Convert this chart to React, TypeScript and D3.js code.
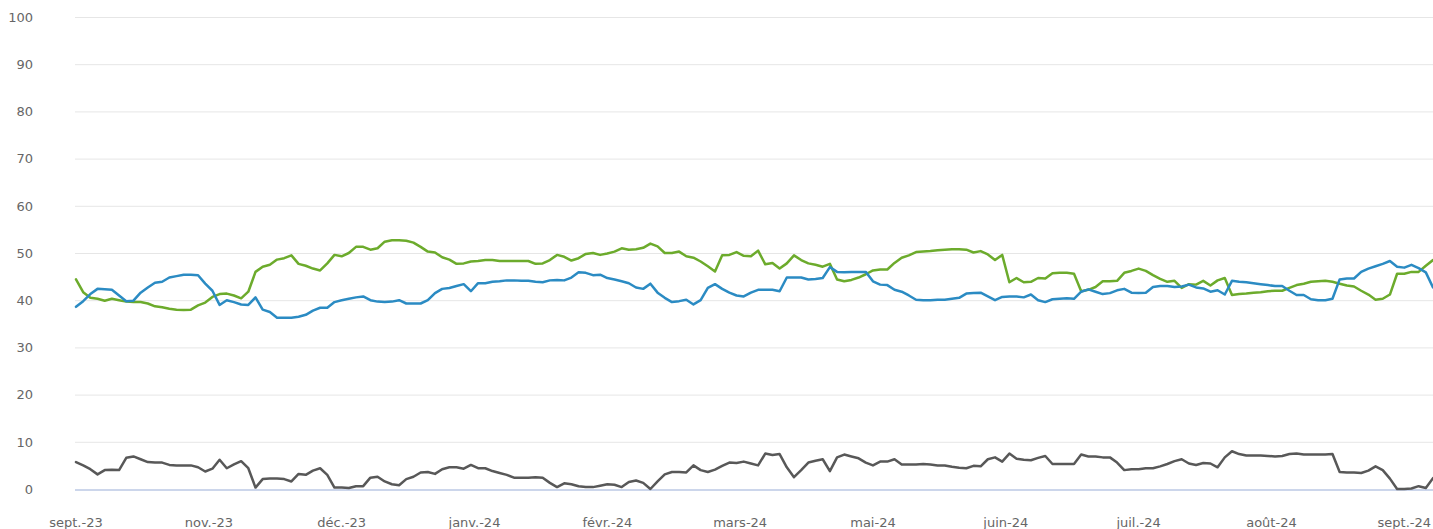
import React from "react";
import * as d3 from "d3";

// one value every 2 days, starting late Sept 2023
const green: number[] = [
  44.4, 41.7, 40.5, 40.3, 39.9, 40.3, 40.0, 39.7, 39.6, 39.6, 39.3, 38.7, 38.5, 38.2, 38.0, 37.9,
  38.0, 38.9, 39.5, 40.7, 41.3, 41.4, 41.0, 40.4, 41.8, 46.0, 47.1, 47.5, 48.6, 48.9, 49.5, 47.7,
  47.3, 46.7, 46.3, 47.8, 49.6, 49.3, 50.0, 51.3, 51.3, 50.7, 51.0, 52.4, 52.7, 52.7, 52.6, 52.2,
  51.3, 50.3, 50.1, 49.1, 48.6, 47.7, 47.8, 48.2, 48.3, 48.5, 48.5, 48.3, 48.3, 48.3, 48.3,
  48.3, 47.7, 47.8, 48.5, 49.6, 49.2, 48.4, 48.9, 49.8, 50.0, 49.6, 49.9, 50.3, 51.0, 50.7, 50.8,
  51.1, 52.0, 51.4, 50.0, 50.0, 50.3, 49.3, 49.0, 48.2, 47.2, 46.1, 49.5, 49.6, 50.2, 49.4, 49.3,
  50.5, 47.6, 47.9, 46.7, 47.8, 49.5, 48.5, 47.8, 47.5, 47.1, 47.7, 44.4, 44.0, 44.3, 44.8, 45.5,
  46.3, 46.5, 46.5, 47.9, 49.0, 49.5, 50.2, 50.3, 50.4, 50.6, 50.7, 50.8, 50.8, 50.7, 50.1,
  50.4, 49.7, 48.5, 49.6, 43.8, 44.7, 43.8, 43.9, 44.7, 44.6, 45.7, 45.8, 45.8, 45.6, 41.9, 42.2,
  42.8, 44.0, 44.0, 44.1, 45.8, 46.2, 46.7, 46.2, 45.3, 44.5, 43.9, 44.1, 42.6, 43.4, 43.3,
  44.1, 43.1, 44.2, 44.7, 41.1, 41.3, 41.4, 41.6, 41.7, 41.9, 42.0, 42.0, 42.6, 43.2, 43.5, 43.9,
  44.0, 44.1, 43.9, 43.5, 43.1, 42.9, 42.0, 41.2, 40.1, 40.3, 41.2, 45.6, 45.6, 46.0, 46.0, 47.3, 48.5,
];

const blue: number[] = [
  38.6, 39.8, 41.3, 42.4, 42.3, 42.2, 41.0, 39.8, 39.9, 41.6, 42.7, 43.7, 43.9, 44.8, 45.1, 45.4,
  45.4, 45.3, 43.5, 42.0, 39.0, 40.0, 39.6, 39.1, 39.0, 40.6, 38.0, 37.5, 36.3, 36.3, 36.3, 36.5,
  36.9, 37.8, 38.4, 38.4, 39.6, 40.0, 40.3, 40.6, 40.8, 40.0, 39.7, 39.6, 39.7, 40.0, 39.3, 39.3,
  39.3, 40.0, 41.5, 42.4, 42.6, 43.0, 43.4, 41.9, 43.6, 43.6, 43.9, 44.0, 44.2, 44.2, 44.1,
  44.1, 43.9, 43.8, 44.2, 44.3, 44.2, 44.8, 45.9, 45.8, 45.3, 45.4, 44.7, 44.4, 44.0, 43.6, 42.7,
  42.4, 43.5, 41.6, 40.5, 39.6, 39.8, 40.1, 39.1, 40.0, 42.6, 43.4, 42.4, 41.6, 41.0, 40.8, 41.6,
  42.2, 42.2, 42.2, 41.9, 44.8, 44.8, 44.8, 44.4, 44.5, 44.7, 47.0, 46.0, 45.9, 46.0, 46.0, 46.0,
  44.0, 43.3, 43.2, 42.2, 41.8, 41.0, 40.1, 40.0, 40.0, 40.1, 40.1, 40.3, 40.5, 41.4, 41.5,
  41.6, 40.8, 40.0, 40.7, 40.8, 40.8, 40.6, 41.2, 40.0, 39.6, 40.2, 40.3, 40.4, 40.3, 41.8, 42.3,
  41.8, 41.3, 41.5, 42.1, 42.4, 41.6, 41.5, 41.6, 42.8, 43.0, 43.0, 42.8, 42.9, 43.3, 42.7,
  42.5, 41.8, 42.1, 41.2, 44.1, 43.9, 43.8, 43.6, 43.4, 43.2, 43.0, 43.0, 42.0, 41.1, 41.1, 40.2,
  40.0, 40.0, 40.3, 44.4, 44.6, 44.6, 46.0, 46.7, 47.2, 47.7, 48.3, 47.1, 46.9, 47.5, 46.8, 45.9, 42.7,
];

const gray: number[] = [
  5.7, 5.0, 4.2, 3.1, 4.0, 4.1, 4.0, 6.6, 6.9, 6.3, 5.7, 5.6, 5.6, 5.1, 5.0, 5.0,
  5.0, 4.6, 3.7, 4.3, 6.2, 4.4, 5.2, 5.9, 4.4, 0.3, 2.1, 2.2, 2.2, 2.1, 1.6, 3.2,
  3.0, 3.9, 4.4, 3.0, 0.3, 0.3, 0.2, 0.6, 0.6, 2.4, 2.6, 1.6, 1.0, 0.8, 2.1, 2.6,
  3.5, 3.6, 3.2, 4.2, 4.6, 4.6, 4.3, 5.1, 4.4, 4.4, 3.8, 3.4, 3.0, 2.4, 2.4,
  2.4, 2.5, 2.4, 1.3, 0.4, 1.2, 1.0, 0.6, 0.4, 0.4, 0.7, 1.0, 0.9, 0.4, 1.5, 1.8,
  1.3, 0.0, 1.6, 3.1, 3.6, 3.6, 3.5, 5.0, 4.0, 3.6, 4.1, 4.9, 5.6, 5.5, 5.8, 5.4,
  5.0, 7.5, 7.2, 7.4, 4.6, 2.5, 4.0, 5.6, 6.0, 6.3, 3.8, 6.7, 7.3, 6.9, 6.5, 5.6,
  5.0, 5.8, 5.8, 6.3, 5.2, 5.2, 5.2, 5.3, 5.2, 5.0, 5.0, 4.7, 4.5, 4.4, 4.9,
  4.8, 6.3, 6.7, 5.8, 7.5, 6.4, 6.2, 6.1, 6.6, 7.0, 5.3, 5.3, 5.3, 5.3, 7.3, 6.9,
  6.9, 6.7, 6.7, 5.6, 4.0, 4.2, 4.2, 4.4, 4.4, 4.8, 5.3, 5.9, 6.3, 5.4, 5.1,
  5.5, 5.4, 4.6, 6.7, 8.0, 7.4, 7.1, 7.1, 7.1, 7.0, 6.9, 7.0, 7.4, 7.5, 7.3, 7.3,
  7.3, 7.3, 7.4, 3.6, 3.5, 3.5, 3.4, 3.9, 4.8, 4.0, 2.2, 0.0, 0.0, 0.1, 0.6, 0.2, 2.3,
];

const tickDays: number[] = [0, 37, 74, 111, 148, 185, 222, 259, 296, 333, 370];
const tickLabels: string[] = [
  "sept.-23", "nov.-23", "déc.-23", "janv.-24", "févr.-24", "mars-24",
  "mai-24", "juin-24", "juil.-24", "août-24", "sept.-24",
];
const yTicks: number[] = [0, 10, 20, 30, 40, 50, 60, 70, 80, 90, 100];
const STEP_DAYS = 2;

const W = 1433;
const H = 529;

export default function App() {
  const n = green.length;
  const x = d3.scaleLinear().domain([0, (n - 1) * STEP_DAYS]).range([76, 1433]);
  const y = d3.scaleLinear().domain([0, 100]).range([489, 17]);
  const line = d3
    .line<number>()
    .x((_, i) => x(i * STEP_DAYS))
    .y((d) => y(d));

  const series = [
    { data: green, color: "#6cab2c" },
    { data: blue, color: "#2b8bc3" },
    { data: gray, color: "#585858" },
  ];

  return (
    <svg
      width={W}
      height={H}
      style={{ position: "absolute", left: 0, top: 0, background: "#fff" }}
      fontFamily="'DejaVu Sans', sans-serif"
    >
      {yTicks.map((t) => (
        <g key={t}>
          {t > 0 && (
            <line x1={75} x2={1433} y1={y(t) + 0.5} y2={y(t) + 0.5} stroke="#e6e6e6" strokeWidth={1} />
          )}
          <text x={33} y={y(t) + 4.7} textAnchor="end" fontSize={13} fill="#666666">
            {t}
          </text>
        </g>
      ))}
      <line x1={75} x2={1433} y1={490} y2={490} stroke="#ccd6eb" strokeWidth={2} />
      {tickDays.map((d, i) => (
        <text key={d} x={x(d)} y={526.5} textAnchor="middle" fontSize={13} fill="#666666">
          {tickLabels[i]}
        </text>
      ))}
      {series.map((s, i) => (
        <path
          key={i}
          d={line(s.data) || ""}
          fill="none"
          stroke={s.color}
          strokeWidth={2.5}
          strokeLinejoin="round"
          strokeLinecap="round"
        />
      ))}
    </svg>
  );
}
